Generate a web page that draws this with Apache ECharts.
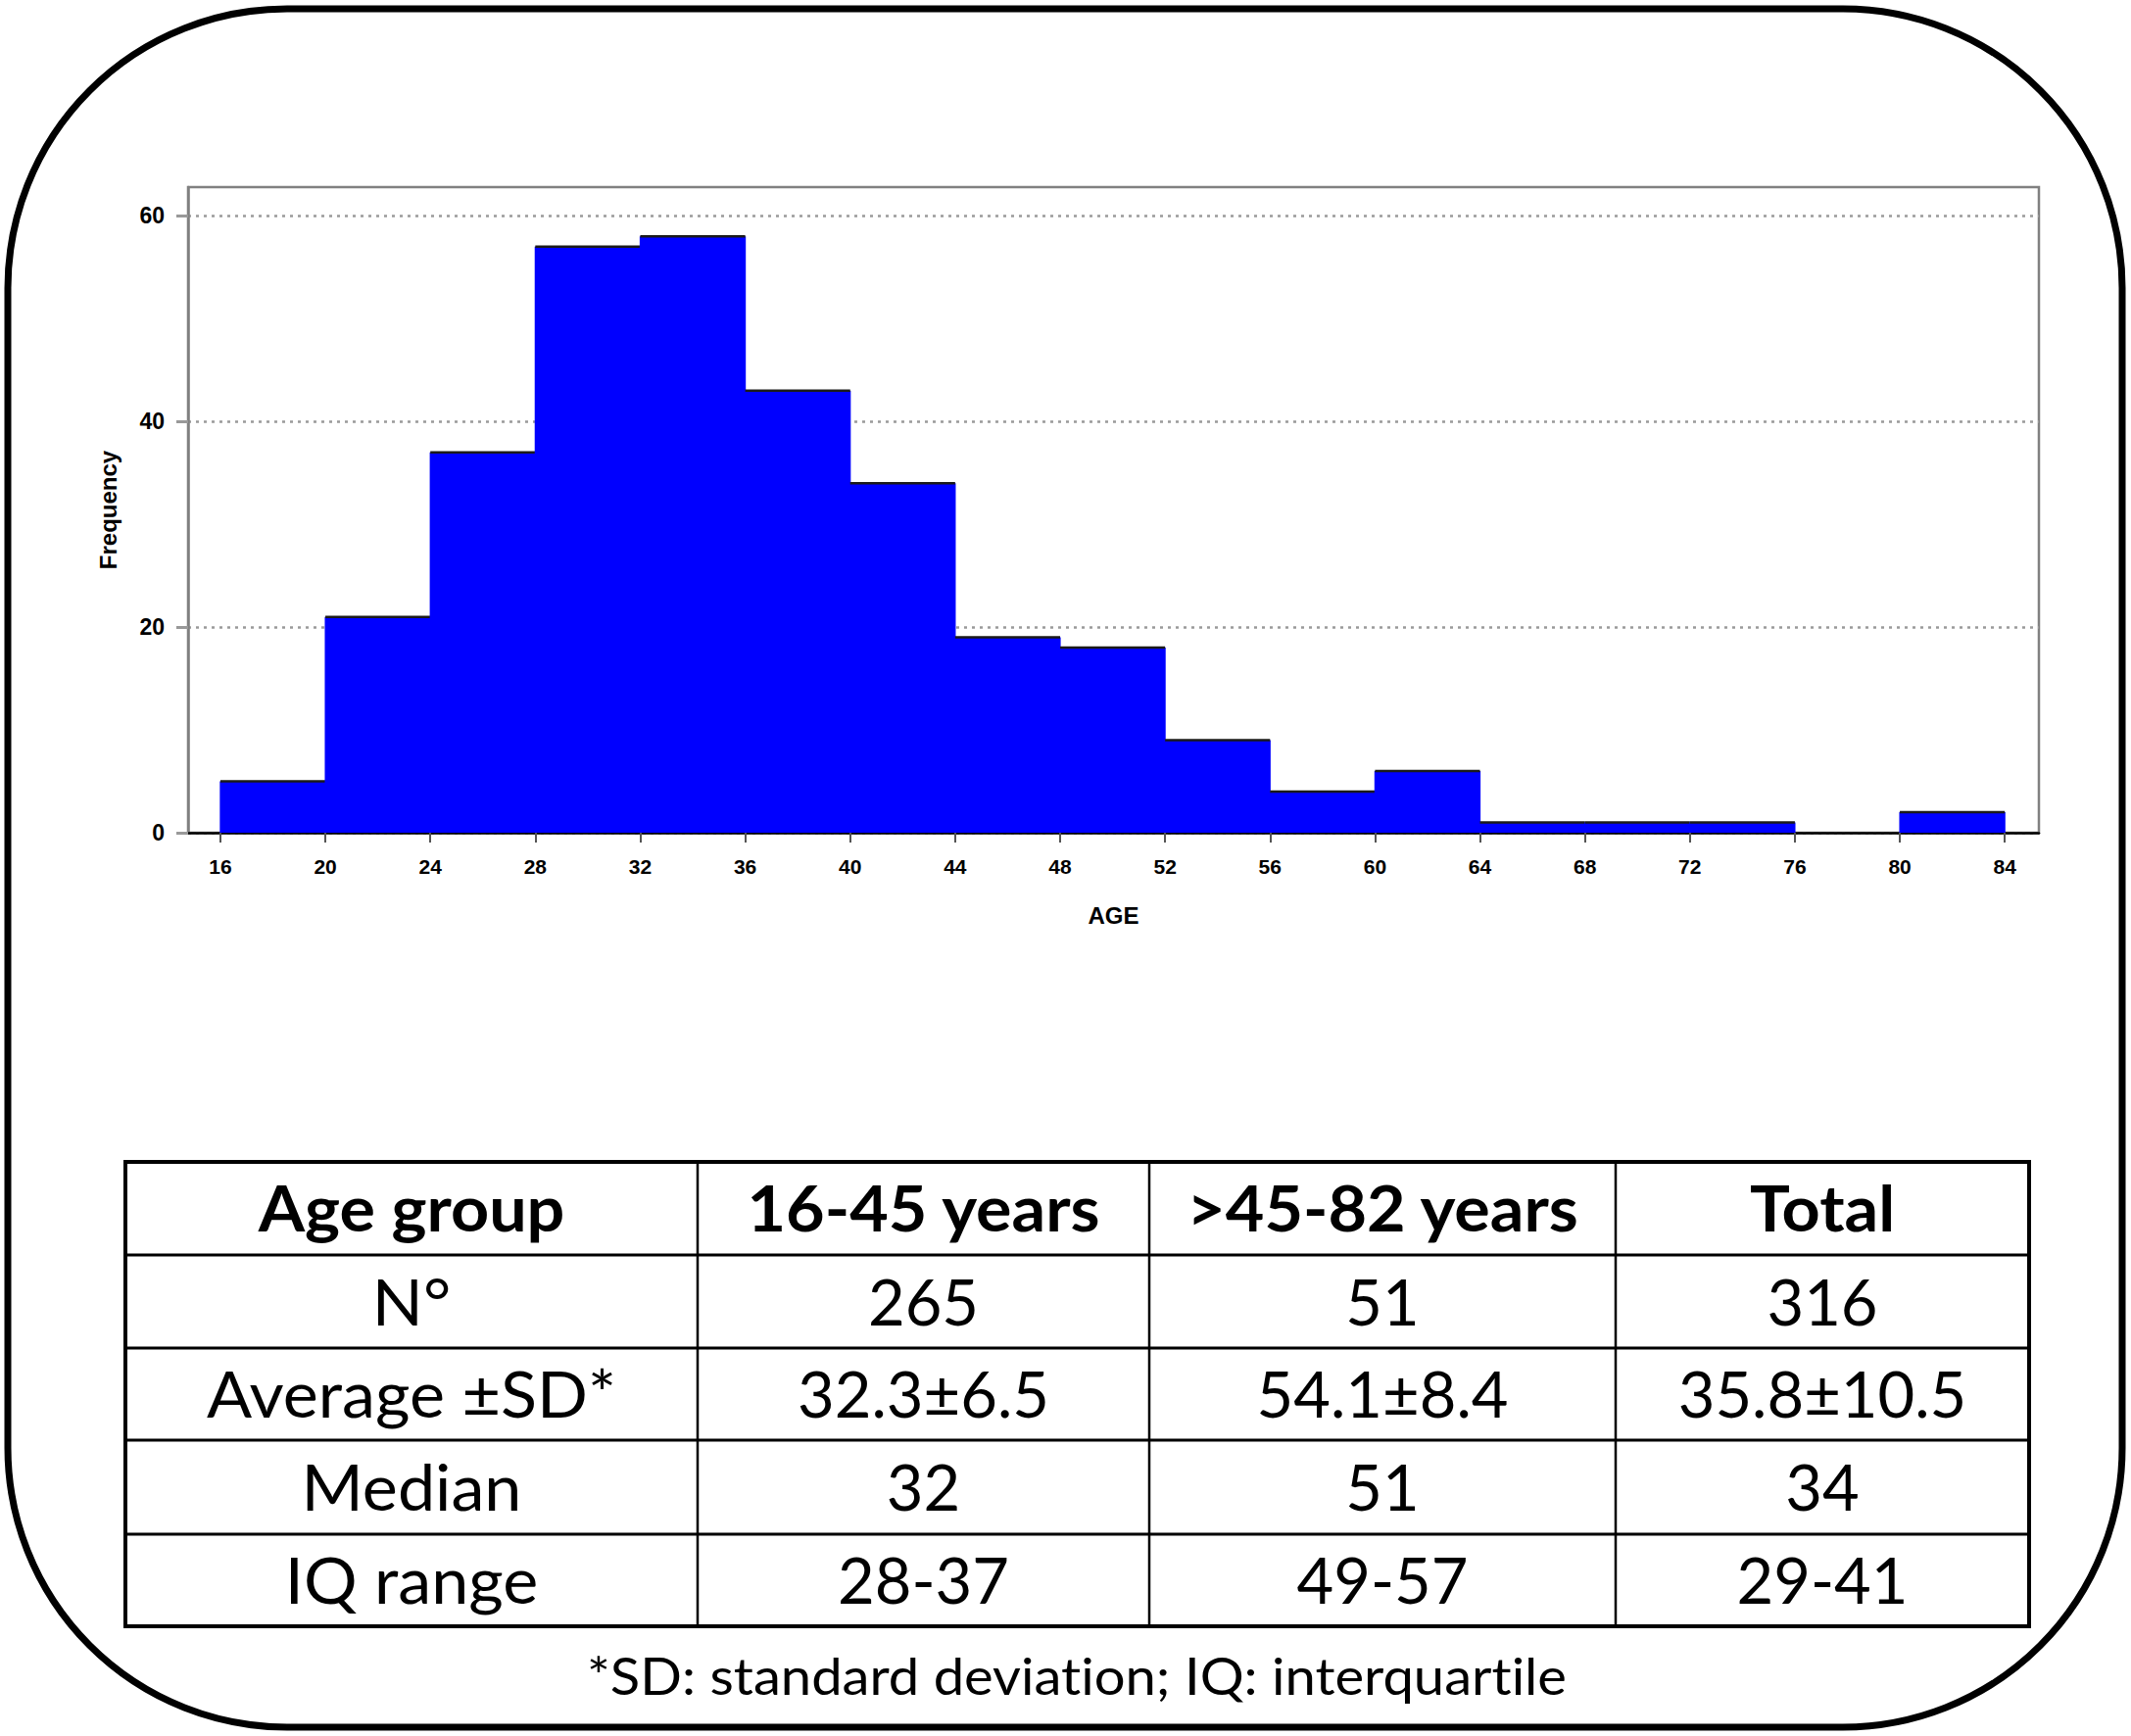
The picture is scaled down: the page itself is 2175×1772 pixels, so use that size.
<!DOCTYPE html>
<html><head><meta charset="utf-8">
<script src="https://cdn.jsdelivr.net/npm/echarts@6/dist/echarts.min.js"></script>
<style>html,body{margin:0;padding:0;background:#fff}#c{width:2175px;height:1772px}
#c text{font-variant-ligatures:none !important;font-feature-settings:"liga" 0,"clig" 0 !important}</style>
</head><body><div id="c"></div>
<script>
// ---- data ----
const binEdges = [16,20,24,28,32,36,40,44,48,52,56,60,64,68,72,76,80,84];
const frequency = [5,21,37,57,58,43,34,19,18,9,4,6,1,1,1,0,2];
const xTickLabels = [16,20,24,28,32,36,40,44,48,52,56,60,64,68,72,76,80,84];
const yTickLabels = [0,20,40,60];
const tableHeader = ['Age group','16-45 years','>45-82 years','Total'];
const rowLabels = ['N°','Average ±SD*','Median','IQ range'];
const col16to45 = ['265','32.3±6.5','32','28-37'];
const col45to82 = ['51','54.1±8.4','51','49-57'];
const colTotal = ['316','35.8±10.5','34','29-41'];
const footnote = '*SD: standard deviation; IQ: interquartile';

// ---- build ----
const histData = frequency.map((f, i) => [binEdges[i], binEdges[i+1], f]);

const colX = [128, 712, 1173, 1649, 2071];
const rowY = [1186, 1281, 1376, 1470, 1566, 1660];
const tableFont = 'Lato, "Noto Sans", sans-serif';
const graphics = [];

// outer rounded frame
graphics.push({type:'rect', z:10, shape:{x:8, y:9, width:2158, height:1754, r:285},
  style:{fill:null, stroke:'#000', lineWidth:7}});

// table lines
rowY.forEach((y, i) => {
  const w = (i === 0 || i === rowY.length - 1) ? 4 : 3;
  graphics.push({type:'line', shape:{x1:colX[0], y1:y, x2:colX[colX.length-1], y2:y},
    style:{stroke:'#000', lineWidth:w, lineCap:'square'}});
});
colX.forEach((x, i) => {
  const w = (i === 0 || i === colX.length - 1) ? 4 : 2.5;
  graphics.push({type:'line', shape:{x1:x, y1:rowY[0], x2:x, y2:rowY[rowY.length-1]},
    style:{stroke:'#000', lineWidth:w, lineCap:'square'}});
});

function cellText(txt, ci, ri, bold, sx, dy) {
  const cx = (colX[ci]+colX[ci+1])/2;
  graphics.push({type:'text',
    x:cx, y:(rowY[ri]+rowY[ri+1])/2 + dy, scaleX:sx, originX:0,
    style:{text:txt, fill:'#000', font:(bold?'bold ':'')+'65px '+tableFont,
      align:'center', verticalAlign:'middle'}});
}
tableHeader.forEach((t, i) => cellText(t, i, 0, true, 1.05, -2));
const bodyCols = [rowLabels, col16to45, col45to82, colTotal];
bodyCols.forEach((col, ci) => col.forEach((t, ri) => cellText(t, ci, ri+1, false, ci === 0 ? 1.05 : 1.0, -1)));

graphics.push({type:'text', x:1099, y:1710, scaleX:1.08,
  style:{text:footnote, fill:'#000', font:'52px '+tableFont, align:'center', verticalAlign:'middle'}});

const chart = echarts.init(document.getElementById('c'), null, {renderer:'svg'});
const axisFont = '"Liberation Sans", Arial, sans-serif';
chart.setOption({
  backgroundColor:'#fff',
  animation:false,
  grid:{left:192, right:94, top:191, bottom:922, show:true, borderColor:'#808080', borderWidth:2.5, backgroundColor:'#fff'},
  xAxis:{type:'value', min:14.77, max:85.3,
    name:'AGE', nameLocation:'middle', nameGap:72,
    nameTextStyle:{fontFamily:axisFont, fontSize:24, fontWeight:'bold', color:'#000'},
    axisLine:{show:true, onZero:false, lineStyle:{color:'#000', width:2.5}},
    axisTick:{show:true, length:10, customValues:xTickLabels, lineStyle:{color:'#555', width:2}},
    axisLabel:{customValues:xTickLabels, margin:24, fontFamily:axisFont, fontSize:21, fontWeight:'bold', color:'#000'},
    splitLine:{show:false}},
  yAxis:{type:'value', min:0, max:62.8, interval:20,
    name:'Frequency', nameLocation:'middle', nameGap:70, nameRotate:90,
    nameTextStyle:{fontFamily:axisFont, fontSize:24, fontWeight:'bold', color:'#000'},
    axisLine:{show:true, lineStyle:{color:'#808080', width:2.5}},
    axisTick:{show:true, length:12, customValues:yTickLabels, lineStyle:{color:'#999', width:3}},
    axisLabel:{customValues:yTickLabels, margin:24, fontFamily:axisFont, fontSize:23, fontWeight:'bold', color:'#000'},
    splitLine:{show:true, lineStyle:{color:'#9a9a9a', width:2.5, type:[3,5]}}},
  series:[{type:'custom', data:histData, encode:{x:[0,1], y:2}, z:5,
    renderItem:function(params, api){
      const v = api.value(2);
      if (!v) return null;
      const p0 = api.coord([api.value(0), v]);
      const p1 = api.coord([api.value(1), 0]);
      return {type:'group', children:[
        {type:'rect', shape:{x:p0[0]-0.6, y:p0[1], width:p1[0]-p0[0]+1.2, height:p1[1]-p0[1]},
          style:{fill:'#0000FF'}},
        {type:'line', shape:{x1:p0[0], y1:p0[1], x2:p1[0], y2:p0[1]}, style:{stroke:'#1a1a1a', lineWidth:2.5}}
      ]};
    }}],
  graphic:graphics
});
</script></body></html>
